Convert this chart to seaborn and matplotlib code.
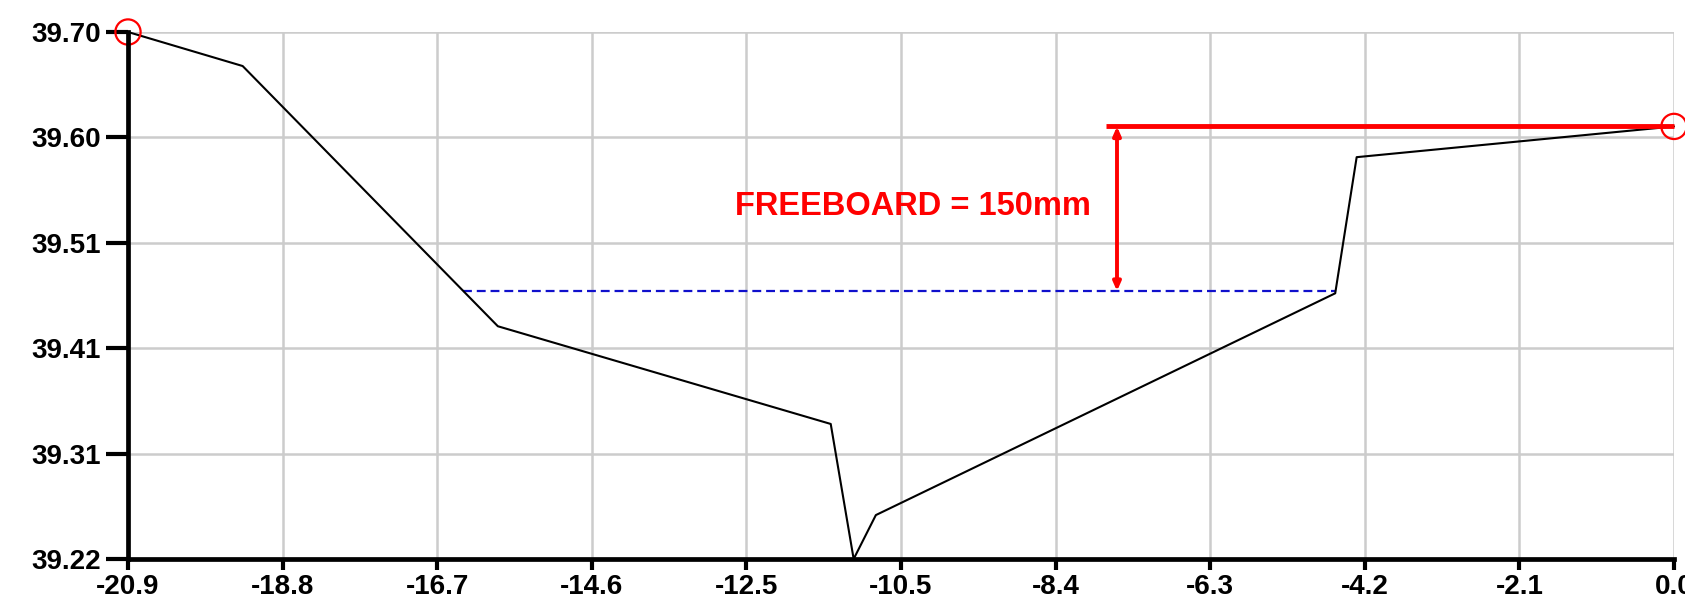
import numpy as np
import pandas as pd
import matplotlib
matplotlib.use("Agg")
import matplotlib.pyplot as plt
import seaborn as sns

# Channel cross-section: chainage (m) vs. level (m)
chainage = [-20.9, -19.35, -15.90, -11.40, -11.09, -10.79, -4.58, -4.29, 0.0]
level = [39.700, 39.669, 39.432, 39.343, 39.220, 39.260, 39.462, 39.586, 39.614]

# Design water surface and top of bank
water_x = [-16.37, -4.58]
top_of_bank = 39.614
freeboard_m = 0.150
water_level = top_of_bank - freeboard_m
bank_line_x = [-7.68, 0.0]
arrow_x = -7.53

# Bank end points highlighted with circles
end_x = [-20.9, 0.0]
end_y = [39.700, 39.614]

x_ticks = np.linspace(-20.9, 0.0, 11)
x_labels = ["-20.9", "-18.8", "-16.7", "-14.6", "-12.5", "-10.5",
            "-8.4", "-6.3", "-4.2", "-2.1", "0.0"]
y_ticks = np.linspace(39.22, 39.70, 6)
y_labels = ["39.22", "39.31", "39.41", "39.51", "39.60", "39.70"]

sns.set_style("white", {"xtick.bottom": True, "ytick.left": True})
plt.rcParams["font.family"] = ["Liberation Sans", "DejaVu Sans"]

fig = plt.figure(figsize=(16.85, 6.08), dpi=100)
ax = fig.add_axes([128 / 1685, 1 - 559 / 608, (1674 - 128) / 1685, (559 - 32) / 608])

df = pd.DataFrame({"chainage": chainage, "level": level})
sns.lineplot(data=df, x="chainage", y="level", ax=ax, color="black",
             linewidth=1.5, sort=False, clip_on=False, zorder=4)

# water surface
sns.lineplot(x=water_x, y=[water_level, water_level], ax=ax, color="#1010cc",
             linewidth=1.6, dashes=False, zorder=3)
ax.lines[-1].set_dashes((4, 2.2))

# top-of-bank line
ax.plot(bank_line_x, [top_of_bank, top_of_bank], color="#ff0000",
        linewidth=3.5, solid_capstyle="butt", clip_on=False, zorder=5)

# freeboard dimension arrow
ax.annotate("", xy=(arrow_x, water_level), xytext=(arrow_x, top_of_bank),
            arrowprops=dict(arrowstyle="<|-|>,head_length=0.5,head_width=0.22",
                            color="#ff0000", lw=2.8, shrinkA=0, shrinkB=0),
            zorder=5)
ax.text(-10.29, 39.5410, f"FREEBOARD = {freeboard_m * 1000:.0f}mm",
        color="#ff0000", fontsize=23.5, fontweight="bold",
        ha="center", va="center", zorder=6)

ax.scatter(end_x, end_y, s=330, facecolors="none", edgecolors="#ff0000",
           linewidths=1.6, clip_on=False, zorder=7)

ax.set_xlim(-20.9, 0.0)
ax.set_ylim(39.22, 39.70)
ax.set_xticks(x_ticks)
ax.set_xticklabels(x_labels)
ax.set_yticks(y_ticks)
ax.set_yticklabels(y_labels)
ax.set_xlabel("")
ax.set_ylabel("")

ax.grid(True, color="#cccccc", linewidth=1.8, zorder=0)
ax.set_axisbelow(True)

for side in ["top", "right"]:
    ax.spines[side].set_visible(False)
for side in ["left", "bottom"]:
    ax.spines[side].set_color("black")
    ax.spines[side].set_linewidth(3.4)
    ax.spines[side].set_zorder(8)

ax.tick_params(axis="y", left=True, direction="out", length=16, width=3,
               color="black", labelcolor="black", pad=3.5, labelsize=20)
ax.tick_params(axis="x", bottom=True, direction="out", length=8, width=3,
               color="black", labelcolor="black", pad=3, labelsize=20)
for lab in ax.get_xticklabels() + ax.get_yticklabels():
    lab.set_fontweight("bold")

fig.savefig("out.png", dpi=100, facecolor="white")
